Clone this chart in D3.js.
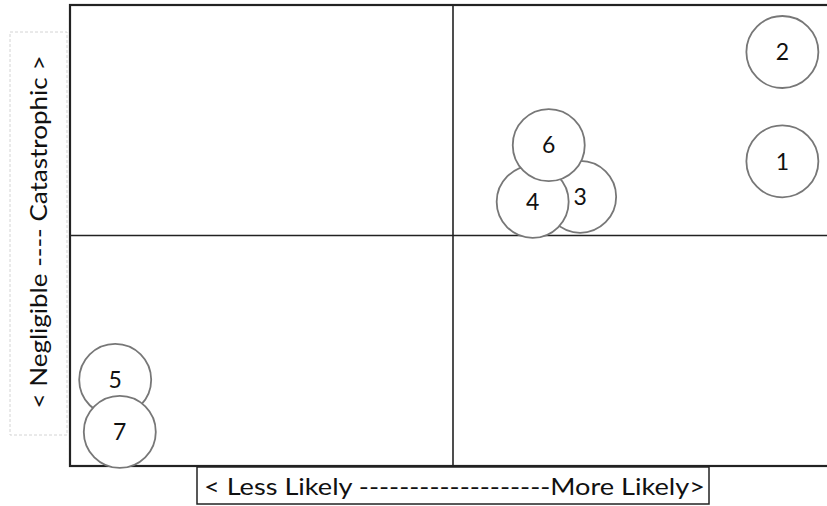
<!DOCTYPE html>
<html>
<head>
<meta charset="utf-8">
<script src="https://cdn.jsdelivr.net/npm/d3@7"></script>
<style>
  body { margin: 0; background: #fff; }
  svg { display: block; }
</style>
</head>
<body>
<svg id="chart" width="827" height="506"></svg>
<script>
// risk items, likelihood (x) and impact (y) on a 0-10 scale
const ids = ['1', '2', '3', '4', '5', '6', '7'];
const likelihood = [9.30, 9.30, 6.66, 6.04, 0.59, 6.25, 0.65];
const impact = [6.61, 8.98, 5.84, 5.73, 1.87, 6.96, 0.74];

const xLabel = '< Less Likely -------------------More Likely>';
const yLabel = '< Negligible ---- Catastrophic >';

const data = ids.map((id, i) => ({ id, x: likelihood[i], y: impact[i] }));

const svg = d3.select('#chart');
const font = 'Lato, "Open Sans", sans-serif';

const x = d3.scaleLinear().domain([0, 10]).range([70, 836]);
const y = d3.scaleLinear().domain([0, 10]).range([466, 5]);

// quadrant frame
svg.append('rect')
  .attr('x', x(0)).attr('y', y(10))
  .attr('width', x(10) - x(0)).attr('height', y(0) - y(10))
  .attr('fill', 'none').attr('stroke', '#222').attr('stroke-width', 2.2);

svg.append('line')
  .attr('x1', x(5)).attr('x2', x(5))
  .attr('y1', y(10)).attr('y2', y(0))
  .attr('stroke', '#222').attr('stroke-width', 1.6);

svg.append('line')
  .attr('x1', x(0)).attr('x2', x(10))
  .attr('y1', y(5)).attr('y2', y(5))
  .attr('stroke', '#222').attr('stroke-width', 1.6);

// bubbles
const r = 36;
const g = svg.selectAll('.risk')
  .data(data)
  .enter().append('g')
  .attr('class', 'risk')
  .attr('transform', d => `translate(${x(d.x)},${y(d.y)})`);

g.append('circle')
  .attr('r', r)
  .attr('fill', '#fff')
  .attr('stroke', '#777')
  .attr('stroke-width', 1.8);

g.append('text')
  .attr('text-anchor', 'middle')
  .attr('dy', '0.36em')
  .attr('font-family', font)
  .attr('font-size', 23)
  .attr('fill', '#111')
  .text(d => d.id);

// x axis label box
svg.append('rect')
  .attr('x', 197).attr('y', 467)
  .attr('width', 512).attr('height', 37)
  .attr('fill', '#fff').attr('stroke', '#222').attr('stroke-width', 1.5);

svg.append('text')
  .attr('x', 204).attr('y', 495)
  .attr('font-family', font)
  .attr('font-size', 24)
  .attr('fill', '#111')
  .attr('textLength', 501)
  .attr('lengthAdjust', 'spacingAndGlyphs')
  .text(xLabel);

// y axis label box (dashed, light)
svg.append('rect')
  .attr('x', 10).attr('y', 32)
  .attr('width', 57).attr('height', 403)
  .attr('fill', '#fff').attr('stroke', '#d4d4d4')
  .attr('stroke-width', 1).attr('stroke-dasharray', '3,2');

svg.append('text')
  .attr('transform', 'translate(47,232) rotate(-90)')
  .attr('text-anchor', 'middle')
  .attr('font-family', font)
  .attr('font-size', 23)
  .attr('fill', '#111')
  .attr('textLength', 353)
  .attr('lengthAdjust', 'spacingAndGlyphs')
  .text(yLabel);
</script>
</body>
</html>
